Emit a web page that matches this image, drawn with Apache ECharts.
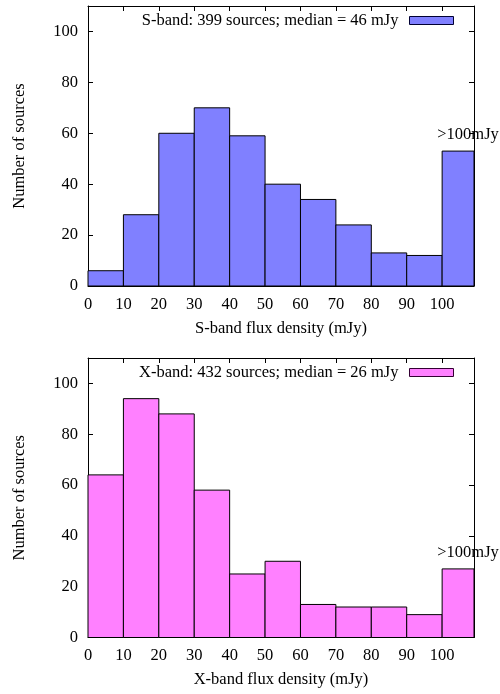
<!DOCTYPE html>
<html>
<head>
<meta charset="utf-8">
<script src="https://cdn.jsdelivr.net/npm/echarts@6/dist/echarts.min.js"></script>
<style>html,body{margin:0;padding:0;background:#fff;}#c{width:500px;height:694px;}</style>
</head>
<body>
<div id="c"></div>
<script>
var binEdges = [0, 10, 20, 30, 40, 50, 60, 70, 80, 90, 100, 110];
var sBandCounts = [6, 28, 60, 70, 59, 40, 34, 24, 13, 12, 53];
var xBandCounts = [64, 94, 88, 58, 25, 30, 13, 12, 12, 9, 27];
var sLegend = 'S-band: 399 sources; median = 46 mJy';
var xLegend = 'X-band: 432 sources; median = 26 mJy';
var overflowLabel = '>100mJy';
var xAxisRange = [0, 109];
var yAxisRange = [0, 110];

var FONT = '"Liberation Serif", "DejaVu Serif", serif';
var FS = 16.5;

function toData(counts) {
  return counts.map(function (c, i) { return [binEdges[i], binEdges[i + 1], c]; });
}

function makeRender(n) {
  return function (params, api) {
    var x0 = api.value(0), x1 = api.value(1), y = api.value(2);
    var p0 = api.coord([x0, y]);
    var p1 = api.coord([x1, 0]);
    var cs = params.coordSys;
    var r = echarts.graphic.clipRectByRect(
      { x: p0[0], y: p0[1], width: p1[0] - p0[0], height: p1[1] - p0[1] },
      { x: cs.x, y: cs.y, width: cs.width, height: cs.height }
    );
    if (!r) return;
    var children = [{
      type: 'rect', shape: r,
      style: { fill: api.visual('color'), stroke: '#000', lineWidth: 1 }
    }];
    if (params.dataIndex === n - 1) {
      children.push({
        type: 'text', x: r.x + r.width / 2 + 10, y: r.y - 16, z2: 10,
        style: { text: overflowLabel, font: FS + 'px ' + FONT, fill: '#000', align: 'center', verticalAlign: 'middle' }
      });
    }
    return { type: 'group', children: children };
  };
}

function xAxes(gi, title) {
  return [{
    type: 'value', gridIndex: gi, min: xAxisRange[0], max: xAxisRange[1], interval: 10, position: 'bottom',
    name: title, nameLocation: 'middle', nameGap: 34,
    nameTextStyle: { fontFamily: FONT, fontSize: FS, color: '#000' },
    axisLine: { onZero: false, lineStyle: { color: '#000', width: 1 } },
    axisTick: { inside: true, length: 5, lineStyle: { color: '#000' } },
    axisLabel: { showMaxLabel: false, margin: 10, fontFamily: FONT, fontSize: FS, color: '#000' },
    splitLine: { show: false }
  }, {
    type: 'value', gridIndex: gi, min: xAxisRange[0], max: xAxisRange[1], interval: 10, position: 'top',
    axisLine: { onZero: false, lineStyle: { color: '#000', width: 1 } },
    axisTick: { inside: true, length: 5, lineStyle: { color: '#000' } },
    axisLabel: { show: false }, splitLine: { show: false }
  }];
}
function yAxes(gi) {
  return [{
    type: 'value', gridIndex: gi, min: yAxisRange[0], max: yAxisRange[1], interval: 20, position: 'left',
    name: 'Number of sources', nameLocation: 'middle', nameGap: 60,
    nameTextStyle: { fontFamily: FONT, fontSize: FS, color: '#000' },
    axisLine: { onZero: false, lineStyle: { color: '#000', width: 1 } },
    axisTick: { inside: true, length: 5, lineStyle: { color: '#000' } },
    axisLabel: { showMaxLabel: false, margin: 10, fontFamily: FONT, fontSize: FS, color: '#000' },
    splitLine: { show: false }
  }, {
    type: 'value', gridIndex: gi, min: yAxisRange[0], max: yAxisRange[1], interval: 20, position: 'right',
    axisLine: { onZero: false, lineStyle: { color: '#000', width: 1 } },
    axisTick: { inside: true, length: 5, lineStyle: { color: '#000' } },
    axisLabel: { show: false }, splitLine: { show: false }
  }];
}

var chart = echarts.init(document.getElementById('c'), null, { renderer: 'canvas' });
chart.setOption({
  animation: false,
  backgroundColor: '#fff',
  grid: [
    { left: 88, top: 6, width: 386, height: 280 },
    { left: 88, top: 358, width: 386, height: 279.5 }
  ],
  xAxis: xAxes(0, 'S-band flux density (mJy)').concat(xAxes(1, 'X-band flux density (mJy)')),
  yAxis: yAxes(0).concat(yAxes(1)),
  legend: [{
    data: [{ name: sLegend, icon: 'rect', itemStyle: { color: '#8080ff', borderColor: '#000033', borderWidth: 1 } }],
    right: 46, top: 12, padding: 0, align: 'right', itemWidth: 44, itemHeight: 8, selectedMode: false,
    textStyle: { fontFamily: FONT, fontSize: FS, color: '#000', padding: [0, 6, 0, 0] }
  }, {
    data: [{ name: xLegend, icon: 'rect', itemStyle: { color: '#ff80ff', borderColor: '#330033', borderWidth: 1 } }],
    right: 46, top: 364, padding: 0, align: 'right', itemWidth: 44, itemHeight: 8, selectedMode: false,
    textStyle: { fontFamily: FONT, fontSize: FS, color: '#000', padding: [0, 6, 0, 0] }
  }],
  series: [{
    name: sLegend, type: 'custom', xAxisIndex: 0, yAxisIndex: 0,
    itemStyle: { color: '#8080ff' },
    renderItem: makeRender(sBandCounts.length),
    encode: { x: [0, 1], y: 2 },
    data: toData(sBandCounts)
  }, {
    name: xLegend, type: 'custom', xAxisIndex: 2, yAxisIndex: 2,
    itemStyle: { color: '#ff80ff' },
    renderItem: makeRender(xBandCounts.length),
    encode: { x: [0, 1], y: 2 },
    data: toData(xBandCounts)
  }]
});
</script>
</body>
</html>
